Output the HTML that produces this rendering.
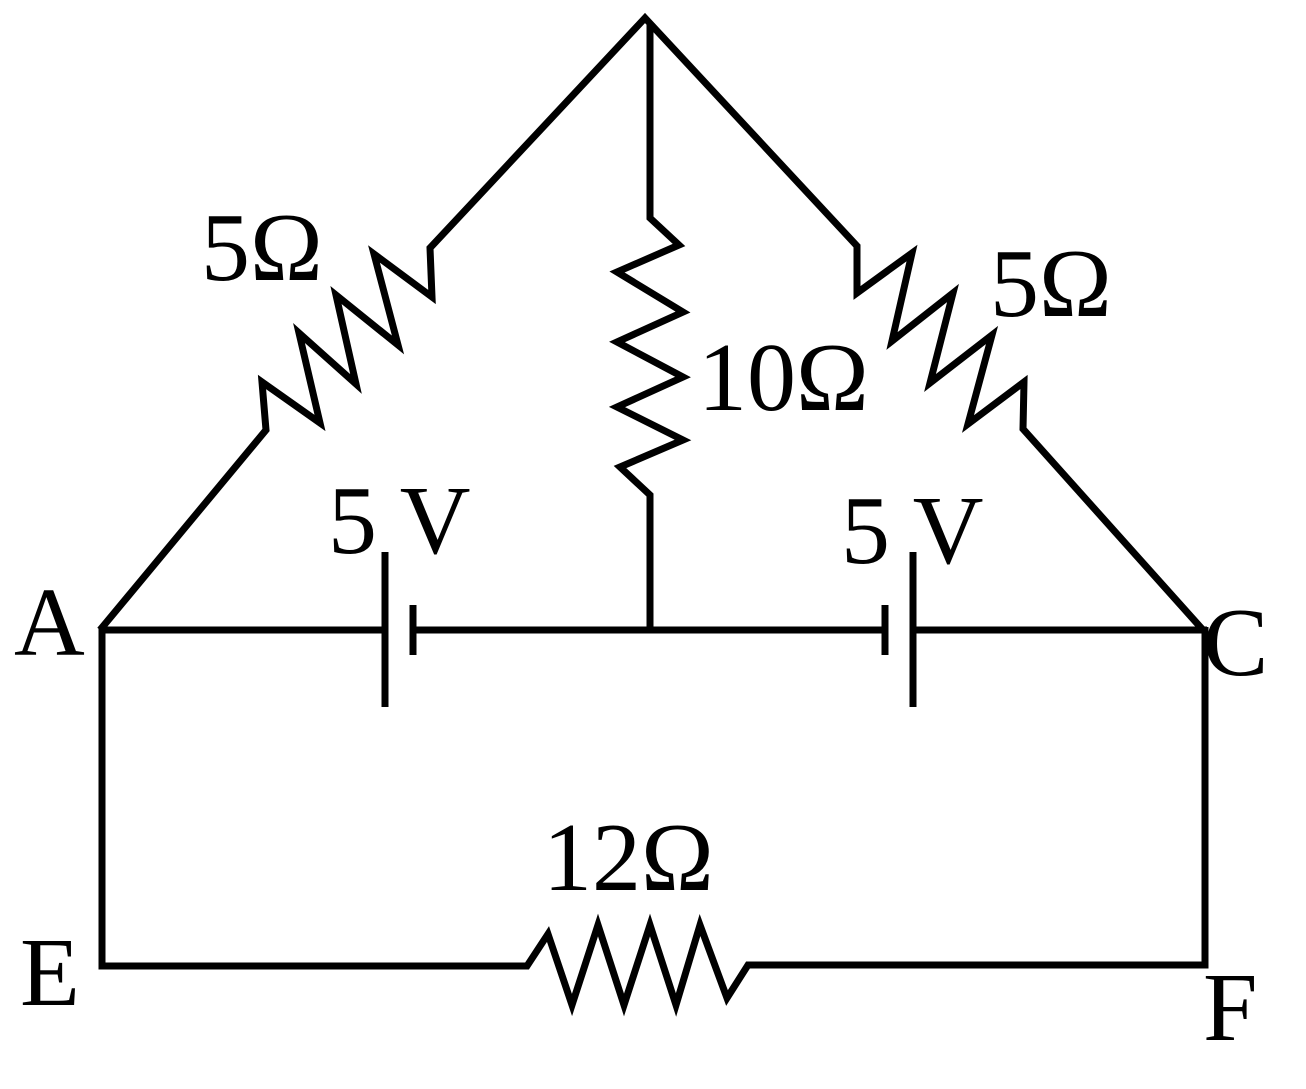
<!DOCTYPE html>
<html><head><style>html,body{margin:0;padding:0;background:#fff;} text{font-family:"Liberation Serif",serif;}</style></head>
<body>
<svg width="1306" height="1084" xmlns="http://www.w3.org/2000/svg">
<g fill="none" stroke="#000" stroke-width="7" stroke-linejoin="miter">
<polyline points="100,630 266,430 262,382 320,423 299,333 356,384 336,295 398,345 374,254 432,297 430,248 645,18 857,246 857,293 912,253 892,341 953,293 930,383 992,335 968,424 1024,382 1023,429 1203,630"/>
<polyline points="650,25 650,218 679,245 617,272 683,312 617,342 683,377 617,407 683,440 620,467 650,495 650,630"/>
<line x1="100" y1="630" x2="385" y2="630"/>
<line x1="413" y1="630" x2="885" y2="630"/>
<line x1="913" y1="630" x2="1207" y2="630"/>
<line x1="385" y1="552" x2="385" y2="707"/>
<line x1="413" y1="605" x2="413" y2="655"/>
<line x1="885" y1="605" x2="885" y2="655"/>
<line x1="913" y1="552" x2="913" y2="707"/>
<polyline points="102,627 102,966 527,966 548,934 572,1005 598,925 624,1005 650,925 676,1005 700,925 727,998 748,965 1205,965 1205,627"/>
</g>
<g font-size="98" fill="#000">
<text x="201" y="280">5Ω</text>
<text x="990" y="316">5Ω</text>
<text x="698" y="410">10Ω</text>
<text x="543" y="890">12Ω</text>
<text x="328" y="553">5 V</text>
<text x="841" y="563">5 V</text>
<text x="14" y="655">A</text>
<text x="1203" y="675">C</text>
<text x="20" y="1005">E</text>
<text x="1203" y="1040">F</text>
</g>
</svg>
</body></html>
